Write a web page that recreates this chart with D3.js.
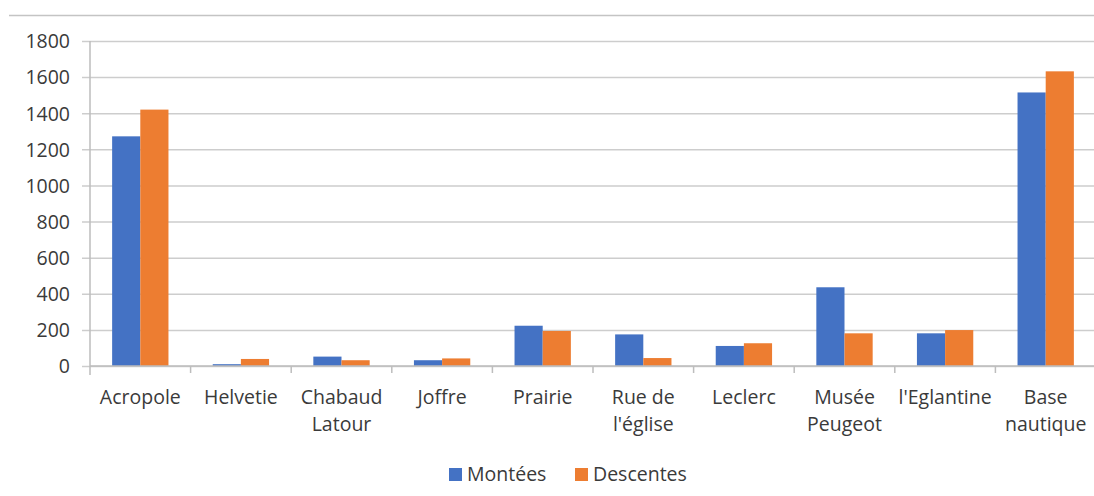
<!DOCTYPE html>
<html>
<head>
<meta charset="utf-8">
<script src="https://cdn.jsdelivr.net/npm/d3@7"></script>
<style>
  body { margin: 0; background: #fff; }
  text { font-family: "Open Sans", "Noto Sans", sans-serif; fill: #3a3a3a; }
</style>
</head>
<body>
<svg id="chart" width="1094" height="496"></svg>
<script>
// arrêts de la ligne
var categories = ['Acropole', 'Helvetie', 'Chabaud\nLatour', 'Joffre', 'Prairie',
    'Rue de\nl\'église', 'Leclerc', 'Musée\nPeugeot', 'l\'Eglantine', 'Base\nnautique'];
var montees = [1272, 10, 52, 32, 223, 175, 111, 436, 181, 1515];
var descentes = [1420, 39, 32, 42, 194, 44, 126, 181, 199, 1632];
var seriesNames = ['Montées', 'Descentes'];
var yTicks = [0, 200, 400, 600, 800, 1000, 1200, 1400, 1600, 1800];

var colors = ['#4472C4', '#ED7D31'];
var fs = '19.5px';
var svg = d3.select('#chart');

// cadre haut
svg.append('line')
    .attr('x1', 9).attr('x2', 1094)
    .attr('y1', 15.5).attr('y2', 15.5)
    .style('stroke', '#c4c4c4').style('stroke-width', 1.5);

var plot = { l: 90, r: 1096, t: 41, b: 366 };

var x = d3.scaleBand()
    .domain(d3.range(categories.length))
    .range([plot.l, plot.r]);

var xs = d3.scaleBand()
    .domain([0, 1])
    .range([x.bandwidth() * 0.22, x.bandwidth() * 0.78]);

var y = d3.scaleLinear()
    .domain([0, 1800])
    .range([plot.b, plot.t]);

// grille + axe y
var yAxis = d3.axisLeft(y)
    .tickValues(yTicks)
    .tickFormat(d3.format('d'));

var gy = svg.append('g')
    .attr('transform', 'translate(' + [plot.l, 0] + ')')
    .call(yAxis);
gy.select('.domain').remove();
gy.selectAll('.tick line')
    .attr('x1', -8)
    .attr('x2', 1094 - plot.l)
    .style('stroke', '#cdcdcd')
    .style('stroke-width', 1.5);
gy.selectAll('.tick text')
    .attr('x', -20)
    .attr('dy', '0.35em')
    .style('font-size', fs)
    .style('fill', '#3a3a3a');

svg.append('line')
    .attr('x1', plot.l).attr('x2', plot.l)
    .attr('y1', plot.t).attr('y2', plot.b + 9)
    .style('stroke', '#bdbdbd').style('stroke-width', 1.5);

// barres
var data = categories.map(function (c, i) { return [montees[i], descentes[i]]; });

var groups = svg.selectAll('.cat')
    .data(data)
    .enter()
    .append('g')
    .attr('class', 'cat')
    .attr('transform', function (d, i) { return 'translate(' + [x(i), 0] + ')'; });

groups.selectAll('rect')
    .data(function (d) { return d; })
    .enter()
    .append('rect')
    .attr('x', function (d, j) { return xs(j); })
    .attr('width', xs.bandwidth())
    .attr('y', function (d) { return y(d); })
    .attr('height', function (d) { return y(0) - y(d); })
    .style('fill', function (d, j) { return colors[j]; });

// axe x
svg.append('line')
    .attr('x1', plot.l).attr('x2', 1094)
    .attr('y1', plot.b).attr('y2', plot.b)
    .style('stroke', '#bdbdbd').style('stroke-width', 1.5);

svg.selectAll('.xtick')
    .data(d3.range(1, categories.length))
    .enter()
    .append('line')
    .attr('class', 'xtick')
    .attr('x1', function (i) { return x(i); })
    .attr('x2', function (i) { return x(i); })
    .attr('y1', plot.b).attr('y2', plot.b + 7)
    .style('stroke', '#bdbdbd').style('stroke-width', 1.5);

var labels = svg.selectAll('.xlabel')
    .data(categories)
    .enter()
    .append('text')
    .attr('class', 'xlabel')
    .attr('text-anchor', 'middle')
    .style('font-size', fs)
    .attr('transform', function (d, i) {
        return 'translate(' + [x(i) + x.bandwidth() / 2, 404] + ')';
    });

labels.selectAll('tspan')
    .data(function (d) { return d.split('\n'); })
    .enter()
    .append('tspan')
    .attr('x', 0)
    .attr('dy', function (d, k) { return k ? 27 : 0; })
    .text(function (d) { return d; });

// légende
var legend = svg.append('g')
    .attr('transform', 'translate(' + [449, 468] + ')');

var legX = [0, 126];
seriesNames.forEach(function (s, j) {
    var g = legend.append('g')
        .attr('transform', 'translate(' + [legX[j], 0] + ')');
    g.append('rect')
        .attr('width', 13).attr('height', 13)
        .style('fill', colors[j]);
    g.append('text')
        .attr('x', 18).attr('y', 13)
        .style('font-size', fs)
        .text(s);
});
</script>
</body>
</html>
